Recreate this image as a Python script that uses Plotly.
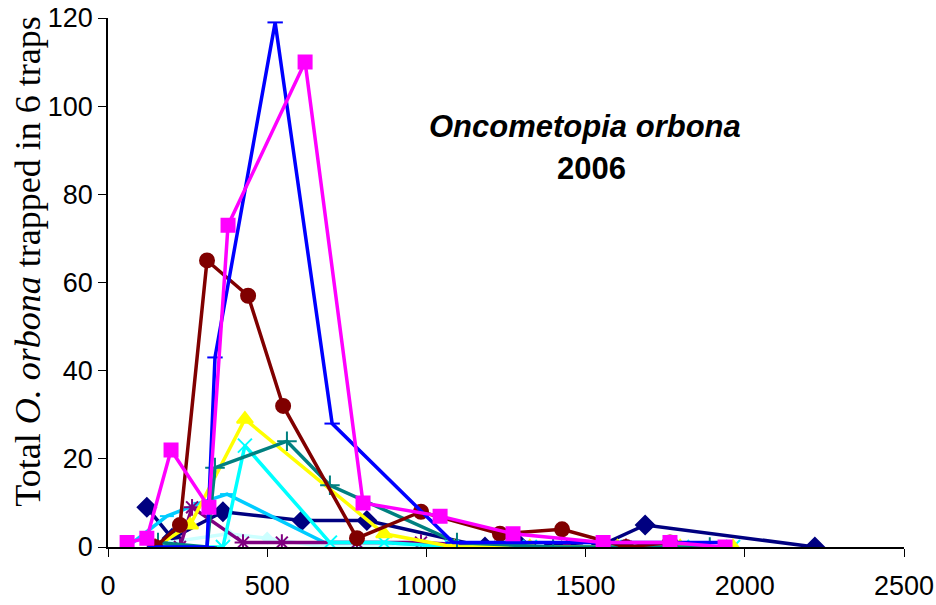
import plotly.graph_objects as go

# degree-day (x) and trap counts (y) per series
navy_x = [122, 201, 361, 609, 813, 1184, 1285, 1536, 1687, 2220]
navy_y = [9, 2, 8, 6, 6, 0, 1, 0, 5, 0]

magenta_x = [60, 122, 198, 317, 377, 619, 801, 1043, 1272, 1555, 1765, 1938]
magenta_y = [1, 2, 22, 9, 73, 110, 10, 7, 3, 1, 1, 0]

yellow_x = [148, 258, 430, 867, 1087, 1325, 1600, 1797, 1963]
yellow_y = [0, 5, 29, 3, 0, 0, 0, 0, 0]

cyan_x = [130, 361, 430, 697, 867, 1080, 1325, 1592, 1803, 1963]
cyan_y = [0, 0, 23, 1, 1, 0, 0, 0, 0, 0]

purple_x = [148, 226, 264, 424, 546, 782, 983, 1231, 1441, 1627]
purple_y = [0, 0, 9, 1, 1, 1, 1, 0, 0, 0]

maroon_x = [148, 226, 311, 440, 550, 782, 983, 1231, 1426, 1627, 1765]
maroon_y = [0, 5, 65, 57, 32, 2, 8, 3, 4, 0, 1]

teal_x = [157, 311, 336, 562, 697, 1096, 1398, 1890]
teal_y = [1, 0, 18, 24, 14, 1, 0, 0]

blue_x = [148, 226, 311, 336, 525, 704, 1084, 1285, 1536, 1917]
blue_y = [0, 0, 0, 43, 119, 28, 1, 1, 1, 1]

sky_x = [60, 185, 290, 374, 680, 867, 1080, 1325, 1600]
sky_y = [0, 7, 10, 12, 1, 1, 0, 0, 0]

pale_x = [148, 185, 377, 500, 682, 880, 1050, 1357, 1505, 1685]
pale_y = [0, 1, 3, 2, 0, 0, 0, 0, 0, 0]

series = [
    (navy_x, navy_y, "#000080", "diamond", 14),
    (sky_x, sky_y, "#00CCFF", "line-ew", 10),
    (pale_x, pale_y, "#CCFFFF", "diamond", 8),
    (purple_x, purple_y, "#800080", "asterisk", 14),
    (cyan_x, cyan_y, "#00FFFF", "x-thin", 14),
    (yellow_x, yellow_y, "#FFFF00", "triangle-up", 14),
    (teal_x, teal_y, "#008080", "cross-thin", 14),
    (maroon_x, maroon_y, "#800000", "circle", 14),
    (blue_x, blue_y, "#0000FF", "line-ew", 11),
    (magenta_x, magenta_y, "#FF00FF", "square", 13),
]

fig = go.Figure()
for xs, ys, col, sym, sz in series:
    fig.add_trace(go.Scatter(
        x=xs, y=ys, mode="lines+markers",
        line=dict(color=col, width=3.5),
        marker=dict(symbol=sym, size=sz, color=col, line=dict(color=col, width=2)),
        showlegend=False,
    ))

title_font = dict(family="Liberation Sans, Arial", size=31, color="black")
fig.add_annotation(x=0.599, y=0.794, xref="paper", yref="paper", xanchor="center", yanchor="middle",
                   text="<b><i>Oncometopia orbona</i></b>", showarrow=False, font=title_font)
fig.add_annotation(x=0.607, y=0.716, xref="paper", yref="paper", xanchor="center", yanchor="middle",
                   text="<b>2006</b>", showarrow=False, font=title_font)
# y axis title placed by hand, like the Excel original
fig.add_annotation(x=-0.1, y=0.54, xref="paper", yref="paper", xanchor="center", yanchor="middle",
                   textangle=-90, showarrow=False,
                   text="Total <i>O. orbona</i> trapped in 6 traps",
                   font=dict(family="Liberation Serif, Times New Roman", size=36, color="black"))

tick_font = dict(family="Liberation Sans, Arial", size=27, color="black")
fig.update_xaxes(range=[0, 2500], tickvals=[0, 500, 1000, 1500, 2000, 2500],
                 showline=True, linecolor="black", linewidth=1.5, ticks="outside", ticklen=8,
                 tickcolor="black", showgrid=False, zeroline=False, automargin=False,
                 ticklabeloverflow="allow", ticklabelstandoff=6, tickfont=tick_font)
fig.update_yaxes(range=[0, 120], tickvals=[0, 20, 40, 60, 80, 100, 120],
                 showline=True, linecolor="black", linewidth=1.5, ticks="outside", ticklen=8,
                 tickcolor="black", showgrid=False, zeroline=False, automargin=False,
                 ticklabeloverflow="allow", tickfont=tick_font)
fig.update_layout(width=936, height=605, plot_bgcolor="white", paper_bgcolor="white",
                  margin=dict(l=108, r=32, t=18, b=58))
# drop the default 8px page margin so the figure fills the window exactly
fig.write_html("out.html", config={"displayModeBar": False},
               post_script="document.body.style.margin='0';")
